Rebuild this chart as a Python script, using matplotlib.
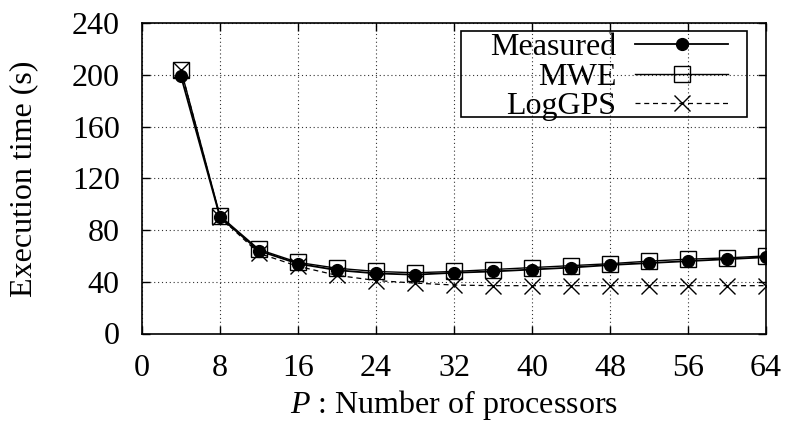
import matplotlib
matplotlib.use("Agg")
import matplotlib.pyplot as plt
from matplotlib.patches import Rectangle

processors = [4, 8, 12, 16, 20, 24, 28, 32, 36, 40, 44, 48, 52, 56, 60, 64]
measured = [199, 90, 64, 54, 49, 46.5, 45.5, 47, 48, 49.5, 51, 53, 54.5, 56, 57.5, 59]
mwe = [204, 91, 65, 55, 50.5, 48, 47, 48, 49.5, 51, 52.5, 54, 56, 57.5, 58.5, 60]
loggps = [204, 90, 62, 52, 45, 41, 39, 37.5, 37, 37, 37, 37, 37, 37, 37, 37]

xticks = [0, 8, 16, 24, 32, 40, 48, 56, 64]
yticks = [0, 40, 80, 120, 160, 200, 240]

plt.rcParams['font.family'] = ['Liberation Serif', 'DejaVu Serif']
plt.rcParams['mathtext.fontset'] = 'custom'
plt.rcParams['mathtext.it'] = 'Liberation Serif:italic'
plt.rcParams['mathtext.rm'] = 'Liberation Serif'

W, H = 787, 421
fig = plt.figure(figsize=(W/100, H/100), dpi=100)
ax = fig.add_axes([142/W, 1 - 333.5/H, (766-142)/W, (333.5-23.3)/H])

ax.plot(processors, measured, '-', color='black', lw=1.3, marker='o', ms=8.5,
        mfc='black', mec='black', label='Measured', zorder=4)
ax.plot(processors, mwe, '-', color='black', lw=1.0, marker='s', ms=11,
        mfc='none', mec='black', mew=1.0, label='MWE', zorder=3)
ax.plot(processors, loggps, '--', color='black', lw=0.9, dashes=(4, 3), marker='x', ms=11,
        mec='black', mew=1.0, label='LogGPS', zorder=2)

ax.set_xlim(0, 64)
ax.set_ylim(0, 240)
ax.set_xticks(xticks)
ax.set_yticks(yticks)
ax.tick_params(direction='in', top=True, right=True, length=6, width=1.0,
               labelsize=23)
ax.tick_params(axis='y', pad=16)
ax.tick_params(axis='x', pad=15)
ax.grid(True, linestyle=(0, (1, 2.5)), color='black', lw=0.8, alpha=0.8)
for s in ax.spines.values():
    s.set_linewidth(1.2)

ax.set_xlabel(r'$P$ : Number of processors', fontsize=23, labelpad=3.5)
ax.set_ylabel('Execution time (s)', fontsize=23, labelpad=24)

leg = ax.legend(loc='upper right', bbox_to_anchor=(728/W, 1 - 33/H),
                bbox_transform=fig.transFigure,
                fontsize=23, markerfirst=False, handlelength=2.9,
                frameon=False, borderpad=0, labelspacing=0.0,
                handletextpad=0.6, borderaxespad=0)
for t in leg.get_texts():
    t.set_ha('right')
leg._legend_box.align = 'right'

frame = Rectangle((461/W, 1 - 117.3/H), (747-461)/W, (117.3-30.7)/H,
                  transform=fig.transFigure, fill=False, edgecolor='black',
                  lw=1.2, zorder=10)
fig.patches.append(frame)

fig.savefig('out.png', dpi=100)
